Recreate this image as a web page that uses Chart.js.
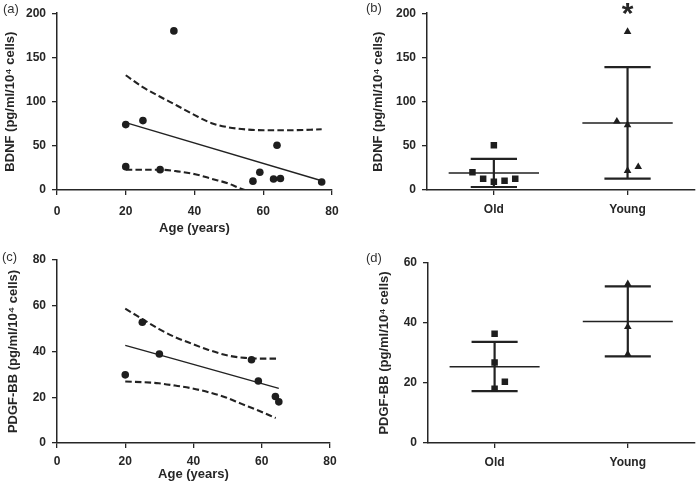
<!DOCTYPE html>
<html>
<head>
<meta charset="utf-8">
<script src="https://cdn.jsdelivr.net/npm/chart.js@4.4.1/dist/chart.umd.min.js"></script>
<style>
  body { margin: 0; background: #fff; }
  #wrap { position: relative; width: 699px; height: 488px; font-family: "Liberation Sans", Arial, sans-serif; }
  canvas { position: absolute; }
  .tag { position: absolute; font-size: 13px; color: #333; line-height: 1; }
</style>
</head>
<body>
<div id="wrap">
  <canvas id="chartA" width="349" height="244" style="left:0;top:0"></canvas>
  <canvas id="chartB" width="350" height="244" style="left:349px;top:0"></canvas>
  <canvas id="chartC" width="349" height="244" style="left:0;top:244px"></canvas>
  <canvas id="chartD" width="350" height="244" style="left:349px;top:244px"></canvas>
  <div class="tag" style="left:3px;top:2px">(a)</div>
  <div class="tag" style="left:366px;top:1px">(b)</div>
  <div class="tag" style="left:2px;top:250px">(c)</div>
  <div class="tag" style="left:366px;top:251px">(d)</div>
</div>
<script>
// (a) BDNF against age
var bdnfAge = [20, 20, 25, 30, 34, 57, 59, 63, 64, 65, 77];
var bdnfVal = [74, 26.4, 78.5, 23, 180, 10, 20, 12.5, 50.6, 13, 9];
var bdnfFitX = [20, 77];
var bdnfFitY = [76.3, 10.5];
var bdnfUpperX = [20, 24.7, 30, 35, 40.2, 45, 49.9, 55.2, 60.1, 67.4, 77];
var bdnfUpperY = [129.8, 117, 105.5, 95.3, 84.4, 75.6, 70.9, 68.4, 67.6, 67.6, 68.7];
var bdnfLowerX = [20, 24.7, 30, 35, 40.2, 45, 49.9, 52.6, 54.6];
var bdnfLowerY = [22.9, 22.9, 22.9, 21.1, 17.8, 12.7, 7.3, 2.9, 0];

// (b) BDNF old vs young
var groups = ['Old', 'Young'];
var bdnfOldX = [0.34, 0.42, 0.5, 0.58, 0.66, 0.5];
var bdnfOld = [20, 12.6, 9.2, 10.4, 12.6, 50.6];
var bdnfYoungX = [1.42, 1.5, 1.5, 1.58, 1.5];
var bdnfYoung = [77.6, 73.6, 21.8, 26.2, 179];
var bdnfMean = [19.3, 75.8];
var bdnfSdHi = [35.3, 139];
var bdnfSdLo = [3.4, 12.9];

// (c) PDGF-BB against age
var pdgfAge = [20, 25, 30, 57, 59, 64, 65];
var pdgfVal = [29.8, 52.8, 38.9, 36.4, 27.1, 20.3, 18];
var pdgfFitX = [20, 65];
var pdgfFitY = [42.7, 23.9];
var pdgfUpperX = [20, 24.9, 29.8, 34.6, 39.5, 44.4, 50.2, 55.1, 60, 64.7];
var pdgfUpperY = [58.7, 54.3, 49.9, 46.3, 43.4, 40.7, 38.2, 37.2, 36.9, 36.9];
var pdgfLowerX = [20, 24.9, 29.8, 34.6, 39.5, 44.4, 49.3, 54.1, 59, 64.1];
var pdgfLowerY = [26.9, 26.6, 26.1, 25.1, 23.9, 22.2, 20, 17.1, 14.2, 10.9];

// (d) PDGF-BB old vs young
var pdgfOldX = [0.5, 0.5, 0.577, 0.5];
var pdgfOld = [36.4, 26.8, 20.4, 18.1];
var pdgfYoungX = [1.5, 1.5, 1.5];
var pdgfYoung = [53, 38.7, 29.6];
var pdgfMean = [25.4, 40.5];
var pdgfSdHi = [33.7, 52.2];
var pdgfSdLo = [17.3, 28.9];

var ink = '#262626';
var dot = '#1e1e1e';
var tickFont = { family: 'Liberation Sans', size: 12, weight: 700 };
var titleFont = { family: 'Liberation Sans', size: 13, weight: 700 };
var yTitle = ' (pg/ml/10\u2074 cells)';

function pts(xs, ys) {
    return xs.map(function (x, i) { return { x: x, y: ys[i] }; });
}

function scatterSet(xs, ys, shape, size) {
    return { type: 'scatter', data: pts(xs, ys), pointStyle: shape, pointRadius: size,
        backgroundColor: dot, borderWidth: 0, order: 0 };
}

function lineSet(xs, ys, dashed) {
    return { type: 'line', data: pts(xs, ys), borderColor: '#222', borderWidth: dashed ? 2.1 : 1.4,
        borderDash: dashed ? [6.5, 3.2] : [], pointRadius: 0, fill: false,
        cubicInterpolationMode: 'monotone', order: 1 };
}

// mean line and SD whiskers for each group
function meanSets(means, hi, lo) {
    var meanPts = [], sdPts = [];
    means.forEach(function (m, i) {
        var c = i + 0.5;
        meanPts.push({ x: c - 0.338, y: m }, { x: c + 0.338, y: m }, { x: c, y: null });
        sdPts.push({ x: c - 0.173, y: hi[i] }, { x: c + 0.173, y: hi[i] }, { x: c, y: null },
            { x: c - 0.173, y: lo[i] }, { x: c + 0.173, y: lo[i] }, { x: c, y: null },
            { x: c, y: hi[i] }, { x: c, y: lo[i] }, { x: c, y: null });
    });
    return [
        { type: 'line', data: meanPts, borderColor: '#222', borderWidth: 1.5, pointRadius: 0, spanGaps: false, order: 1 },
        { type: 'line', data: sdPts, borderColor: '#222', borderWidth: 2.2, pointRadius: 0, spanGaps: false, order: 1 }
    ];
}

function makeOptions(p) {
    var xTicks = { color: ink, font: tickFont, padding: p.xPad, maxRotation: 0 };
    var x = {
        type: 'linear', min: p.xMin, max: p.xMax,
        border: { color: ink, width: 1.5 },
        grid: { drawOnChartArea: false, color: ink, lineWidth: 1.3, tickLength: 5 },
        ticks: xTicks,
        title: { display: !!p.xTitle, text: p.xTitle || '', color: ink, font: titleFont, padding: { bottom: p.xTitlePad || 0 } },
        afterFit: function (s) { s.height = p.xHeight; }
    };
    if (p.categories) {
        xTicks.callback = function (v) { return groups[Math.floor(v)]; };
        x.afterBuildTicks = function (s) { s.ticks = [{ value: 0.5 }, { value: 1.5 }]; };
    } else {
        xTicks.stepSize = 20;
    }
    return {
        responsive: false,
        animation: false,
        layout: { padding: { top: p.top, right: p.right, left: 0, bottom: 0 } },
        plugins: { legend: { display: false }, tooltip: { enabled: false } },
        scales: {
            x: x,
            y: {
                type: 'linear', min: 0, max: p.yMax,
                border: { color: ink, width: 1.5 },
                grid: { drawOnChartArea: false, color: ink, lineWidth: 1.3, tickLength: 5 },
                ticks: { stepSize: p.yStep, color: ink, font: tickFont, padding: 6 },
                title: { display: true, text: p.yTitle, color: ink, font: titleFont, padding: { top: p.yTitlePad } },
                afterFit: function (s) { s.width = p.yWidth; }
            }
        }
    };
}

// asterisk over the Young group in (b)
var starPlugin = {
    id: 'star',
    afterDatasetsDraw: function (chart) {
        var ctx = chart.ctx;
        var x = chart.scales.x.getPixelForValue(1.5);
        ctx.save();
        ctx.fillStyle = ink;
        ctx.font = 'bold 30px "Liberation Sans"';
        ctx.textAlign = 'center';
        ctx.textBaseline = 'alphabetic';
        ctx.fillText('*', x, chart.chartArea.top + 10);
        ctx.restore();
    }
};

new Chart(document.getElementById('chartA'), {
    type: 'scatter',
    data: { datasets: [
        scatterSet(bdnfAge, bdnfVal, 'circle', 3.8),
        lineSet(bdnfFitX, bdnfFitY, false),
        lineSet(bdnfUpperX, bdnfUpperY, true),
        lineSet(bdnfLowerX, bdnfLowerY, true)
    ] },
    options: makeOptions({ xMin: 0, xMax: 80, yMax: 200, yStep: 50, top: 8, right: 17,
        xHeight: 54, xPad: 9.5, yWidth: 57, xTitle: 'Age (years)', xTitlePad: 8,
        yTitle: 'BDNF' + yTitle, yTitlePad: 3 })
});

new Chart(document.getElementById('chartB'), {
    type: 'scatter',
    data: { datasets: [
        scatterSet(bdnfOldX, bdnfOld, 'rect', 4.6),
        scatterSet(bdnfYoungX, bdnfYoung, 'triangle', 4.4)
    ].concat(meanSets(bdnfMean, bdnfSdHi, bdnfSdLo)) },
    options: makeOptions({ categories: true, xMin: 0, xMax: 2, yMax: 200, yStep: 50, top: 10, right: 2,
        xHeight: 54, xPad: 7.5, yWidth: 78, yTitle: 'BDNF' + yTitle, yTitlePad: 22 }),
    plugins: [starPlugin]
});

new Chart(document.getElementById('chartC'), {
    type: 'scatter',
    data: { datasets: [
        scatterSet(pdgfAge, pdgfVal, 'circle', 3.8),
        lineSet(pdgfFitX, pdgfFitY, false),
        lineSet(pdgfUpperX, pdgfUpperY, true),
        lineSet(pdgfLowerX, pdgfLowerY, true)
    ] },
    options: makeOptions({ xMin: 0, xMax: 80, yMax: 80, yStep: 20, top: 16, right: 19,
        xHeight: 45, xPad: 6.5, yWidth: 57, xTitle: 'Age (years)', xTitlePad: 6,
        yTitle: 'PDGF-BB' + yTitle, yTitlePad: 6 })
});

new Chart(document.getElementById('chartD'), {
    type: 'scatter',
    data: { datasets: [
        scatterSet(pdgfOldX, pdgfOld, 'rect', 4.6),
        scatterSet(pdgfYoungX, pdgfYoung, 'triangle', 4.4)
    ].concat(meanSets(pdgfMean, pdgfSdHi, pdgfSdLo)) },
    options: makeOptions({ categories: true, xMin: 0, xMax: 2, yMax: 60, yStep: 20, top: 19, right: 2,
        xHeight: 45, xPad: 7, yWidth: 79, yTitle: 'PDGF-BB' + yTitle, yTitlePad: 28 })
});
</script>
</body>
</html>
